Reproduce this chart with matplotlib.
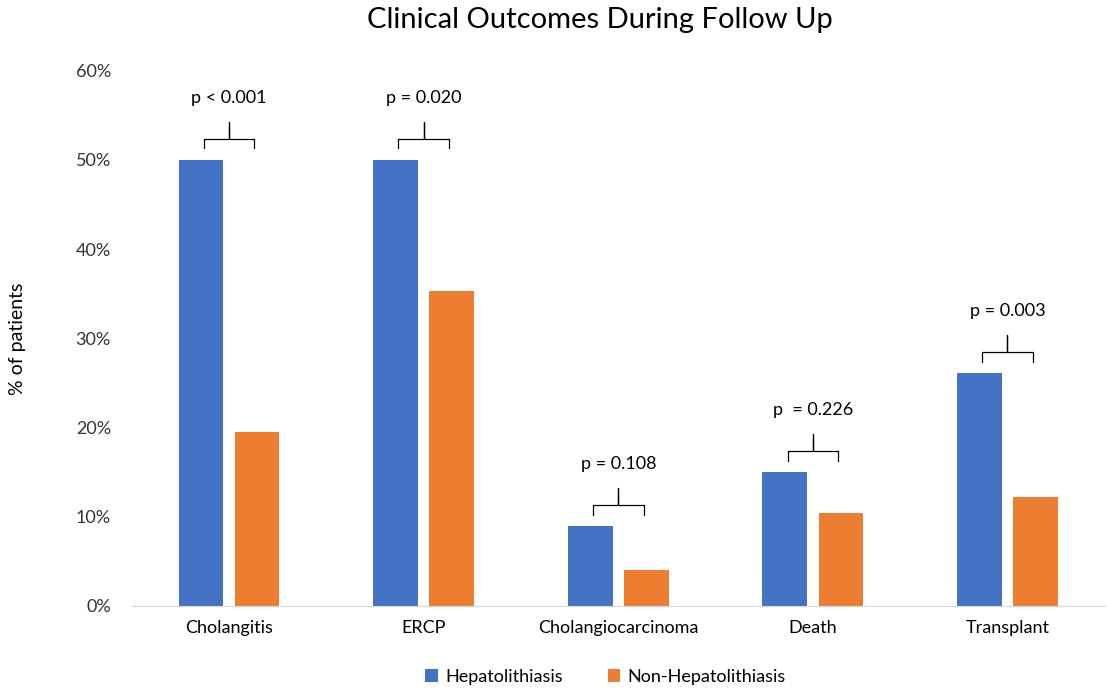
import numpy as np
import matplotlib.pyplot as plt

plt.rcParams['font.family'] = ['Lato', 'DejaVu Sans']

categories = ["Cholangitis", "ERCP", "Cholangiocarcinoma", "Death", "Transplant"]
hepato = [50.0, 50.0, 8.9, 15.0, 26.1]
non_hepato = [19.5, 35.3, 4.0, 10.4, 12.2]
p_labels = ["p < 0.001", "p = 0.020", "p = 0.108", "p  = 0.226", "p = 0.003"]

blue = "#4472C4"
orange = "#ED7D31"

fig = plt.figure(figsize=(11.07, 6.94), dpi=100)
ax = fig.add_axes([0.119, 0.127, 0.879, 0.771])

x = np.arange(len(categories))
w = 0.23
off = 0.144
ax.bar(x - off, hepato, w, color=blue, label="Hepatolithiasis")
ax.bar(x + off, non_hepato, w, color=orange, label="Non-Hepatolithiasis")

# brackets with p values
for i in range(len(categories)):
    base = max(hepato[i], non_hepato[i])
    x0 = x[i] - 0.13
    x1 = x[i] + 0.13
    yb = base + 1.3
    yh = base + 2.4
    yt = base + 4.3
    xm = x[i]
    ax.plot([x0, x0, xm, xm, xm, x1, x1], [yb, yh, yh, yt, yh, yh, yb],
            color="black", lw=0.9)
    ax.text(xm, base + 7.0, p_labels[i], ha="center", va="center", fontsize=13)

ax.set_xlim(-0.5, 4.5)
ax.set_ylim(0, 60)
ax.set_yticks(range(0, 61, 10))
ax.set_yticklabels([f"{v}%" for v in range(0, 61, 10)], fontsize=13, color="#333333")
ax.set_xticks(x)
ax.set_xticklabels(categories, fontsize=13)
ax.tick_params(length=0, pad=10)
ax.tick_params(axis="y", pad=15)
for s in ["top", "right", "left"]:
    ax.spines[s].set_visible(False)
ax.spines["bottom"].set_color("#d9d9d9")

ax.set_ylabel("% of patients", fontsize=14, labelpad=36)
fig.suptitle("Clinical Outcomes During Follow Up", fontsize=21, x=0.542, y=0.99)

fig.legend(loc="lower center", ncol=2, frameon=False, fontsize=13,
           handlelength=0.7, handleheight=0.7, columnspacing=2.5,
           bbox_to_anchor=(0.547, -0.01), handletextpad=0.4)

fig.savefig("out.png", dpi=100)
